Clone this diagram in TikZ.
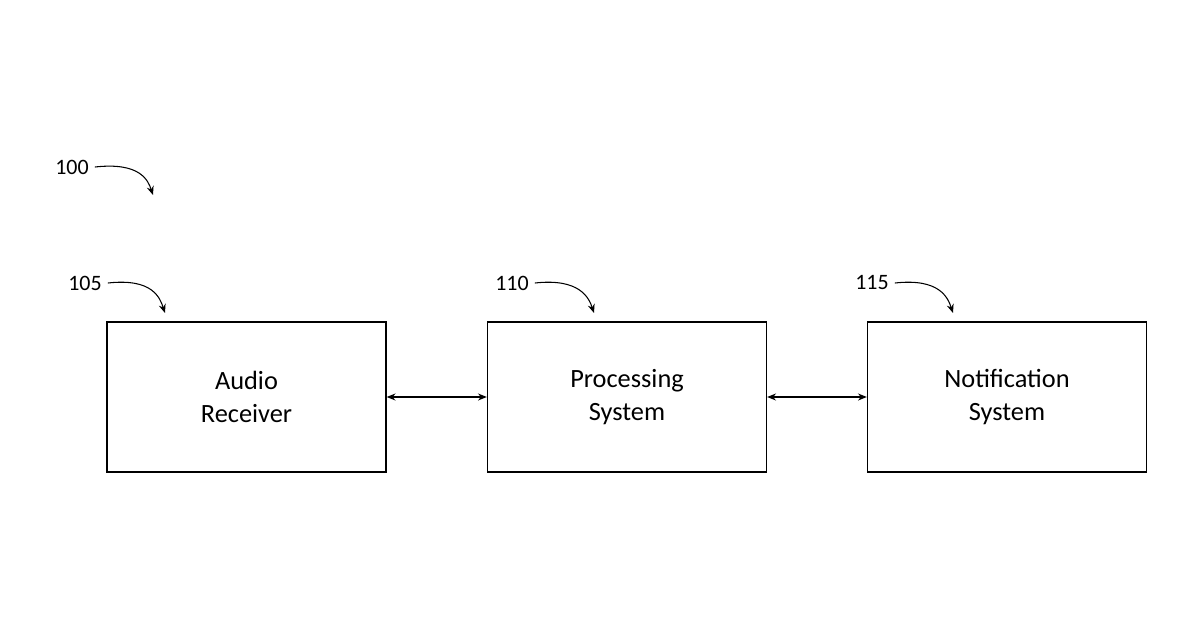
\documentclass[tikz,border=0pt]{standalone}
\usepackage{fontspec}
\setmainfont{Carlito}
\usetikzlibrary{arrows.meta,positioning}
\tikzset{
  block/.style={draw,thick,minimum width=5.58cm,minimum height=3cm,align=center,font=\fontsize{15}{19}\selectfont},
  refnum/.style={font=\fontsize{12.5}{15}\selectfont},
  link/.style={{Stealth[length=5pt,width=4pt]}-{Stealth[length=5pt,width=4pt]},semithick},
  lead/.style={-{Stealth[length=5pt,width=4pt]},semithick}
}
\begin{document}
\begin{tikzpicture}
\useasboundingbox (0,0) rectangle (24,12.6);
\node[block] (audio) at (4.93,4.66) {Audio\\Receiver};
\node[block] (proc) at (12.54,4.66) {Processing\\System};
\node[block] (notif) at (20.14,4.66) {Notification\\System};
\draw[link] (audio) -- (proc);
\draw[link] (proc) -- (notif);
% reference numerals
\node[refnum] (n100) at (1.44,9.26) {100};
\node[refnum] (n105) at (1.7,6.94) {105};
\node[refnum] (n110) at (10.24,6.94) {110};
\node[refnum] (n115) at (17.44,6.94) {115};
\coordinate (t100) at (3.06,8.7);
\coordinate (t105) at (3.3,6.34);
\coordinate (t110) at (11.88,6.34);
\coordinate (t115) at (19.06,6.34);
\draw[lead] (n100.east) .. controls +(0.9,0.1) and +(-0.1,0.3) .. (t100);
\draw[lead] (n105.east) .. controls +(0.9,0.1) and +(-0.1,0.3) .. (t105);
\draw[lead] (n110.east) .. controls +(0.9,0.1) and +(-0.1,0.3) .. (t110);
\draw[lead] (n115.east) .. controls +(0.9,0.1) and +(-0.1,0.3) .. (t115);
\end{tikzpicture}
\end{document}
